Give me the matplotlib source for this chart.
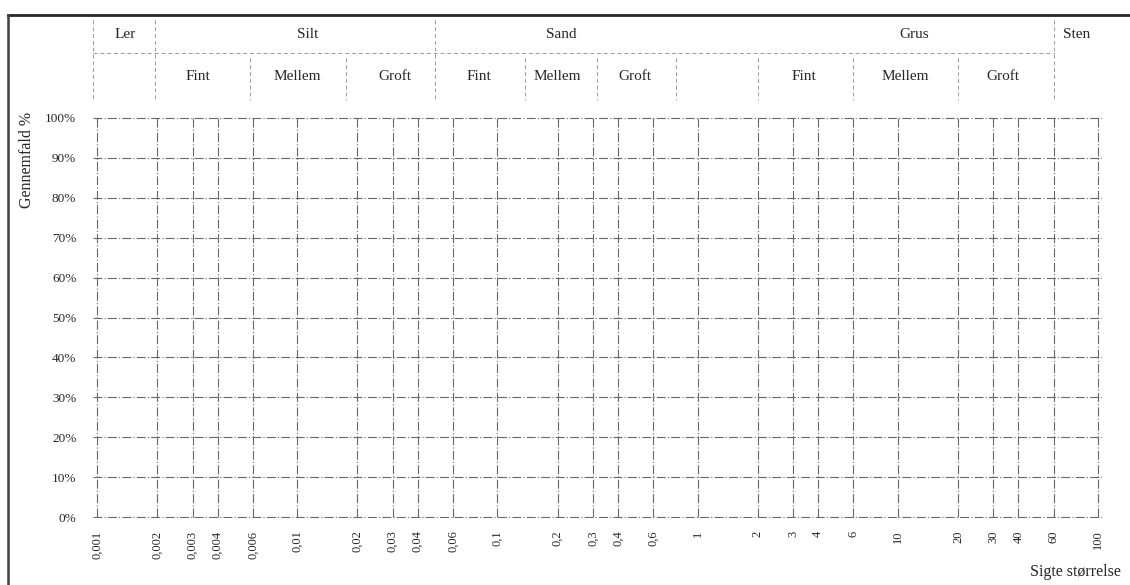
import matplotlib
matplotlib.use('Agg')
import matplotlib.pyplot as plt
from matplotlib.lines import Line2D

plt.rcParams['font.family'] = ['Liberation Serif', 'DejaVu Serif']

# sigte-storrelser (mm) og labels
sieve_sizes = [0.001, 0.002, 0.003, 0.004, 0.006, 0.01, 0.02, 0.03, 0.04, 0.06,
               0.1, 0.2, 0.3, 0.4, 0.6, 1, 2, 3, 4, 6, 10, 20, 30, 40, 60, 100]
sieve_labels = ['0,001', '0,002', '0,003', '0,004', '0,006', '0,01', '0,02', '0,03', '0,04', '0,06',
                '0,1', '0,2', '0,3', '0,4', '0,6', '1', '2', '3', '4', '6', '10', '20', '30', '40', '60', '100']
pct_ticks = [0, 10, 20, 30, 40, 50, 60, 70, 80, 90, 100]

# jordarter i hovedet (navn, midte i mm)
main_classes = ['Ler', 'Silt', 'Sand', 'Grus', 'Sten']
main_centers = [0.00138, 0.0113, 0.209, 12.1, 78.5]
sub_classes = ['Fint', 'Mellem', 'Groft', 'Fint', 'Mellem', 'Groft', 'Fint', 'Mellem', 'Groft']
sub_centers = [0.0032, 0.0100, 0.0308, 0.0813, 0.200, 0.485, 3.38, 10.9, 33.6]
main_bounds = [0.00096, 0.00195, 0.049, 60.3]
sub_bounds = [0.0058, 0.0175, 0.138, 0.316, 0.78, 2.0, 6.0, 20.0]

W, H = 1130, 585
fig = plt.figure(figsize=(W / 100, H / 100), dpi=100)
x0, x1 = 93, 1102
y_top, y_bot = 117, 518
ax = fig.add_axes([x0 / W, (H - y_bot) / H, (x1 - x0) / W, (y_bot - y_top) / H])
ax.set_xscale('log')
ax.set_xlim(0.001 * 10 ** (-4 / 200), 100 * 10 ** (4 / 200))
ax.set_ylim(-0.25, 100.25)

grid_kw = dict(color='0.4', linewidth=0.8, linestyle=(0, (8, 2, 1, 2)), zorder=1)
for s in sieve_sizes:
    ax.plot([s, s], [0, 100], **grid_kw)
for p in pct_ticks:
    ax.plot([0.001 * 10 ** (-4 / 200), 100 * 10 ** (4 / 200)], [p, p], **grid_kw)

for sp in ax.spines.values():
    sp.set_visible(False)

ax.set_xticks(sieve_sizes)
ax.set_xticklabels(sieve_labels, rotation=90, fontsize=9, va='top')
ax.xaxis.set_minor_locator(matplotlib.ticker.NullLocator())
ax.set_yticks(pct_ticks)
ax.set_yticklabels([f'{p}%' for p in pct_ticks], fontsize=9.5)
ax.tick_params(axis='both', length=0, pad=9, colors='0.15')
ax.tick_params(axis='y', pad=12)

# hoved-tabel over grafen
tr = ax.get_xaxis_transform()
def yf(py):
    return (y_bot - py) / (y_bot - y_top)

head_kw = dict(color='0.6', linewidth=0.7, linestyle=(0, (4, 3)), clip_on=False)
for b in main_bounds:
    ax.plot([b, b], [yf(20), yf(100)], transform=tr, **head_kw)
for b in sub_bounds:
    ax.plot([b, b], [yf(58), yf(100)], transform=tr, **head_kw)
ax.plot([main_bounds[0], main_bounds[-1]], [yf(53), yf(53)], transform=tr, **head_kw)

for name, c in zip(main_classes, main_centers):
    ax.text(c, yf(34), name, transform=tr, ha='center', va='center', fontsize=11, color='0.15')
for name, c in zip(sub_classes, sub_centers):
    ax.text(c, yf(77), name, transform=tr, ha='center', va='center', fontsize=11, color='0.15')

fig.text(27 / W, 1 - 160 / H, 'Gennemfald %', rotation=90, ha='center', va='center',
         fontsize=11.5, color='0.15')
fig.text(1075 / W, 1 - 572 / H, 'Sigte størrelse', ha='center', va='center',
         fontsize=11.5, color='0.15')

# ramme
fig.add_artist(Line2D([8 / W, 1.0], [1 - 15 / H, 1 - 15 / H], color='0.15', linewidth=2))
fig.add_artist(Line2D([8 / W, 8 / W], [0, 1 - 15 / H], color='0.25', linewidth=1.8))

fig.savefig('out.png', dpi=100, facecolor='white')
